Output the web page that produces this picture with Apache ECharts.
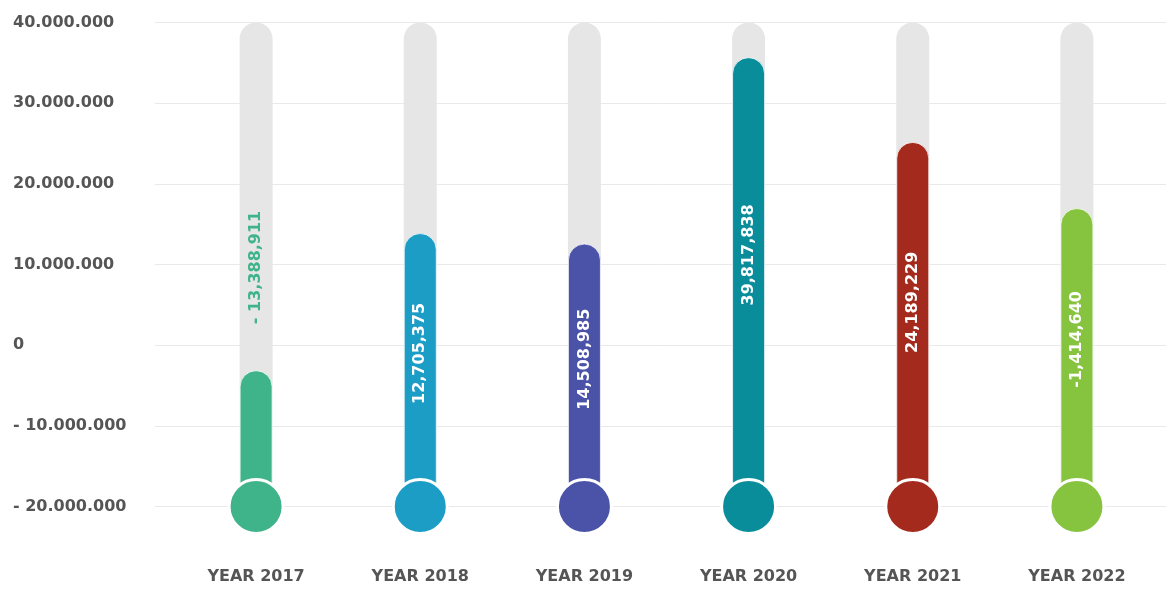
<!DOCTYPE html>
<html>
<head>
<meta charset="utf-8">
<script src="https://cdn.jsdelivr.net/npm/echarts@6/dist/echarts.min.js"></script>
<style>
  html, body { margin: 0; padding: 0; background: #ffffff; }
  #chart { width: 1166px; height: 589px; }
</style>
</head>
<body>
<div id="chart"></div>
<script>
// ---- data ----
const categories = ['YEAR 2017', 'YEAR 2018', 'YEAR 2019', 'YEAR 2020', 'YEAR 2021', 'YEAR 2022'];
const fillTops = [-3100000, 13900000, 12600000, 35700000, 25200000, 17000000];
const valueLabels = ['- 13,388,911', '12,705,375', '14,508,985', '39,817,838', '24,189,229', '-1,414,640'];
const yTicks = [-20000000, -10000000, 0, 10000000, 20000000, 30000000, 40000000];
const yTickLabels = ['- 20.000.000', '- 10.000.000', '0', '10.000.000', '20.000.000', '30.000.000', '40.000.000'];

// ---- styles ----
const palette = ['#3fb48a', '#1b9dc6', '#4b53a8', '#0a8d9b', '#a42a1d', '#86c440'];
const yMin = -20000000, yMax = 40000000, yStep = 10000000;
const font = 'DejaVu Sans';

const chart = echarts.init(document.getElementById('chart'));

const fillData = fillTops.map((v, i) => {
  const shortBar = (v - yMin) < 20000000;
  return {
    value: v - yMin,
    itemStyle: { color: palette[i] },
    label: shortBar ? {
      show: true,
      formatter: valueLabels[i],
      position: 'top',
      distance: 46,
      rotate: 90,
      align: 'left',
      verticalAlign: 'middle',
      color: palette[i],
      fontFamily: font,
      fontWeight: 'bold',
      fontSize: 16
    } : {
      show: true,
      formatter: valueLabels[i],
      position: ['50%', '44%'],
      rotate: 90,
      align: 'center',
      verticalAlign: 'middle',
      color: '#ffffff',
      fontFamily: font,
      fontWeight: 'bold',
      fontSize: 16
    }
  };
});

const bulbData = categories.map((c, i) => ({
  value: [c, 0],
  itemStyle: { color: palette[i], borderColor: '#ffffff', borderWidth: 3, opacity: 1 }
}));

chart.setOption({
  animation: false,
  backgroundColor: '#ffffff',
  grid: [
    { left: 155, right: 0, top: 22.5, bottom: 82.5 },
    { left: 174, right: 7, top: 22.5, bottom: 82.5 }
  ],
  xAxis: [
    { type: 'category', gridIndex: 0, data: categories, show: false },
    {
      type: 'category', gridIndex: 1, data: categories,
      axisLine: { show: false }, axisTick: { show: false },
      axisLabel: {
        margin: 62, color: '#555555', fontFamily: font,
        fontWeight: 'bold', fontSize: 16
      }
    }
  ],
  yAxis: [
    {
      type: 'value', gridIndex: 0, min: yMin, max: yMax, interval: yStep,
      axisLine: { show: false }, axisTick: { show: false },
      splitLine: { lineStyle: { color: '#e9e9e9', width: 1 } },
      axisLabel: {
        align: 'left', margin: 142, color: '#555555', fontFamily: font,
        fontWeight: 'bold', fontSize: 16,
        formatter: function (v) {
          const idx = yTicks.indexOf(v);
          return idx >= 0 ? yTickLabels[idx] : '';
        }
      }
    },
    {
      type: 'value', gridIndex: 1, min: 0, max: yMax - yMin, show: false,
      splitLine: { show: false }
    }
  ],
  series: [
    {
      type: 'bar', xAxisIndex: 1, yAxisIndex: 1,
      barWidth: 33,
      showBackground: true,
      backgroundStyle: { color: '#e6e6e6', borderRadius: 16.5 },
      itemStyle: { borderRadius: [16.5, 16.5, 0, 0], borderColor: 'rgba(255,255,255,0.75)', borderWidth: 1 },
      data: fillData,
      z: 2
    },
    {
      type: 'scatter', xAxisIndex: 1, yAxisIndex: 1,
      symbol: 'circle', symbolSize: 54, clip: false,
      itemStyle: { opacity: 1 },
      data: bulbData,
      z: 3
    }
  ]
});
</script>
</body>
</html>
